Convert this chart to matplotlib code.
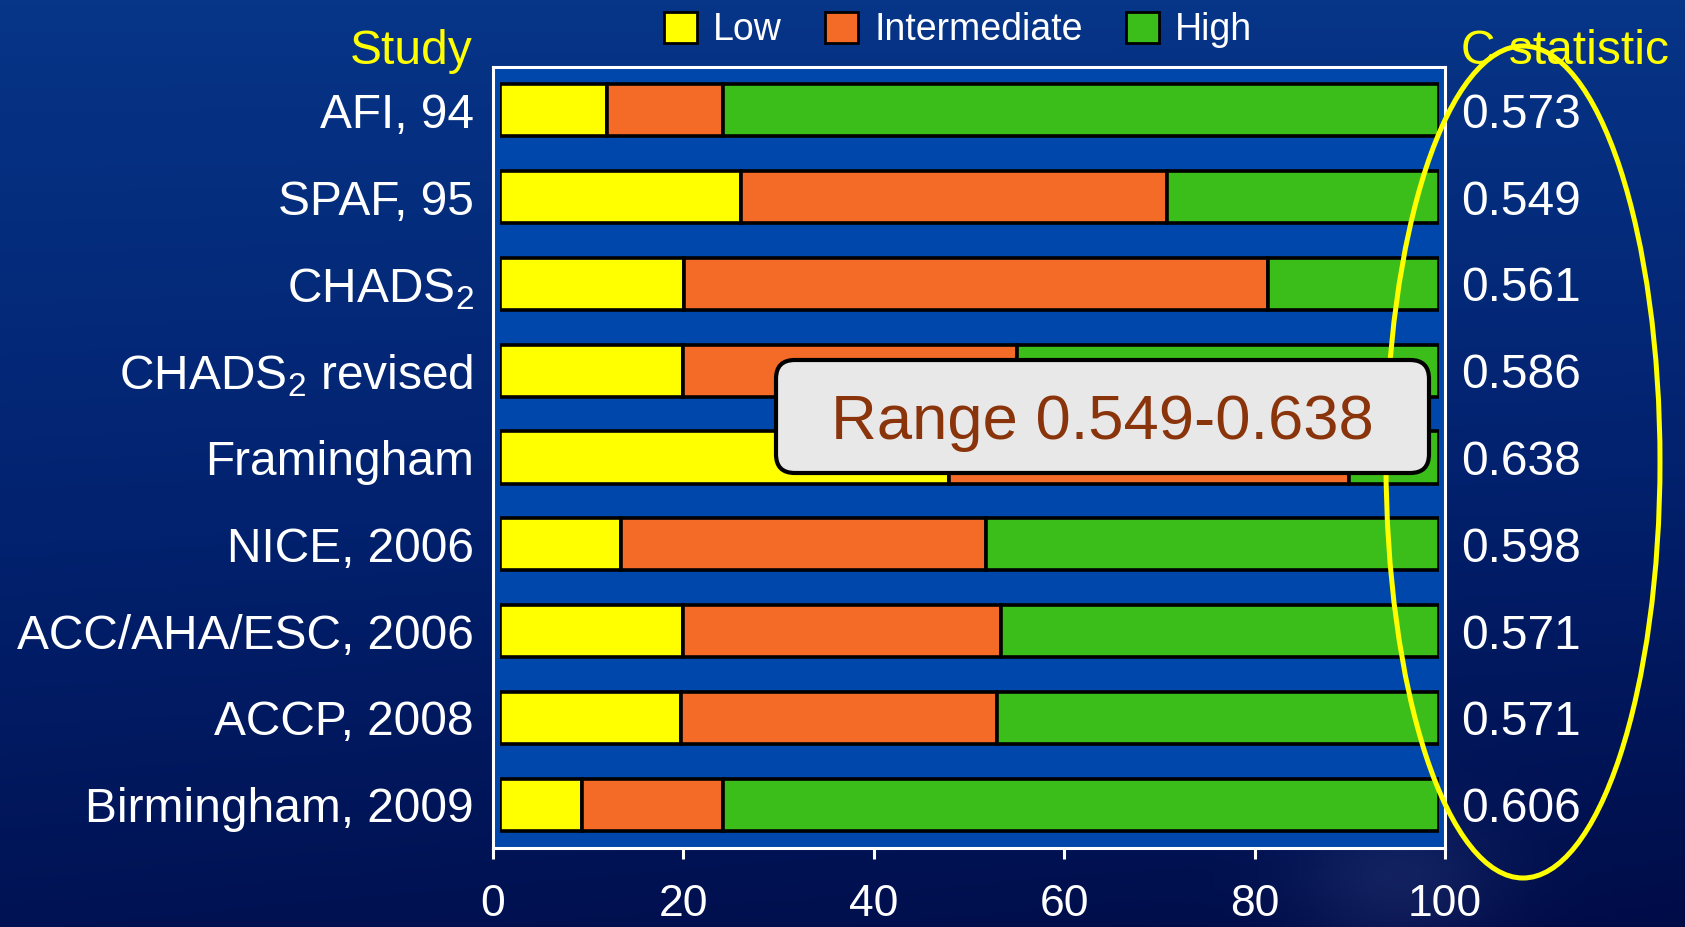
import numpy as np
import matplotlib
matplotlib.use("Agg")
import matplotlib.pyplot as plt
import matplotlib.patches as mpatches
from matplotlib.colors import LinearSegmentedColormap
from matplotlib.transforms import blended_transform_factory

plt.rcParams['font.family'] = ['Liberation Sans', 'DejaVu Sans']
plt.rcParams['mathtext.fontset'] = 'custom'
plt.rcParams['mathtext.rm'] = 'Liberation Sans'
plt.rcParams['mathtext.it'] = 'Liberation Sans'
plt.rcParams['mathtext.default'] = 'regular'

# Risk-scheme comparison: share of patients per risk category (%)
studies = ["AFI, 94", "SPAF, 95", "CHADS$_2$", "CHADS$_2$ revised", "Framingham",
           "NICE, 2006", "ACC/AHA/ESC, 2006", "ACCP, 2008", "Birmingham, 2009"]
low = [11.4, 25.7, 19.6, 19.5, 47.8, 12.9, 19.5, 19.3, 8.7]
intermediate = [12.4, 45.3, 62.2, 35.6, 42.6, 38.9, 33.9, 33.6, 15.0]
high = [76.2, 29.0, 18.2, 44.9, 9.6, 48.2, 46.6, 47.1, 76.3]
c_statistic = ["0.573", "0.549", "0.561", "0.586", "0.638",
               "0.598", "0.571", "0.571", "0.606"]
categories = ["Low", "Intermediate", "High"]
colors = ["#FFFF00", "#F46B28", "#3CBE1A"]
x_ticks = [0, 20, 40, 60, 80, 100]
range_label = "Range 0.549-0.638"

W, H = 1685, 927
fig = plt.figure(figsize=(W / 100, H / 100), dpi=100)

# dark blue slide background
bg = fig.add_axes([0, 0, 1, 1], zorder=-10)
bg.axis("off")
yy, xx = np.mgrid[0:1:300j, 0:1:500j]
grad = 0.85 * yy + 0.15 * xx * yy
glow = np.exp(-(((xx - 0.83) / 0.06) ** 2 + ((yy - 0.95) / 0.08) ** 2))
cmap = LinearSegmentedColormap.from_list("slide", ["#073588", "#02216E", "#000C48"])
img = cmap(np.clip(grad, 0, 1))
img[..., :3] = img[..., :3] + 0.07 * glow[..., None]
bg.imshow(np.clip(img, 0, 1), aspect="auto", extent=[0, 1, 0, 1], origin="upper")
bg.set_xlim(0, 1)
bg.set_ylim(0, 1)

# frame axes: blue panel, white border, x ticks and study labels
fl, fr, ft, fb = 493, 1445, 67, 848
ax = fig.add_axes([fl / W, 1 - fb / H, (fr - fl) / W, (fb - ft) / H])
ax.set_facecolor("#0047AB")
for s in ax.spines.values():
    s.set_color("white")
    s.set_linewidth(2.2)
ax.set_xlim(0, 100)
ax.set_ylim(len(studies) - 0.5, -0.5)
ax.set_xticks(x_ticks)
ax.set_xticklabels([str(t) for t in x_ticks])
ax.set_yticks(range(len(studies)))
ax.set_yticklabels(studies)
ax.tick_params(axis="x", direction="out", length=8, width=2.2, color="white",
               labelcolor="white", labelsize=32, pad=18)
ax.tick_params(axis="y", length=0, labelcolor="white", labelsize=34.5, pad=14)

# bar axes, slightly inset inside the panel
bl, br = 500, 1439
axb = fig.add_axes([bl / W, 1 - fb / H, (br - bl) / W, (fb - ft) / H])
axb.set_xlim(0, 100)
axb.set_ylim(len(studies) - 0.5, -0.5)
axb.axis("off")
ypos = np.arange(len(studies))
left = np.zeros(len(studies))
for vals, col, name in zip([low, intermediate, high], colors, categories):
    axb.barh(ypos, vals, left=left, height=0.6, color=col, edgecolor="black",
             linewidth=2.6, label=name, zorder=2)
    left = left + np.array(vals)

# C statistic column
tr = blended_transform_factory(fig.transFigure, axb.transData)
for y, c in zip(ypos, c_statistic):
    axb.text(1461 / W, y, c, transform=tr, ha="left", va="center_baseline", color="white",
             fontsize=34.5, clip_on=False, zorder=3)

fig.text(473 / W, 1 - 47 / H, "Study", ha="right", va="center_baseline", color="#FFFF00",
         fontsize=34.5)
fig.text(1461 / W, 1 - 47 / H, "C statistic", ha="left", va="center_baseline",
         color="#FFFF00", fontsize=34.5)

# highlight ring around the C statistic column
ring = mpatches.Ellipse((1523 / W, 1 - 462 / H), 274 / W, 832 / H, transform=fig.transFigure,
                        fill=False, edgecolor="#FFFF00", linewidth=3.6, clip_on=False, zorder=4)
axb.add_patch(ring)

# range call-out
aw, ah = br - bl, fb - ft
bx0, bx1, by0, by1 = 776, 1429, 360, 473
box = mpatches.FancyBboxPatch(((bx0 - bl) / aw, (fb - by1) / ah), (bx1 - bx0) / aw, (by1 - by0) / ah,
                              boxstyle="round,pad=0,rounding_size=0.02",
                              mutation_aspect=aw / ah, transform=axb.transAxes,
                              facecolor="#E8E8E8", edgecolor="black", linewidth=3,
                              clip_on=False, zorder=5)
axb.add_patch(box)
axb.text(((bx0 + bx1) / 2 - bl) / aw, (fb - (by0 + by1) / 2) / ah, range_label,
         transform=axb.transAxes, ha="center", va="center_baseline", color="#8A340C",
         fontsize=45.6, zorder=6)

# legend
handles = [mpatches.Patch(facecolor=c, edgecolor="black", linewidth=2) for c in colors]
fig.legend(handles, categories, loc="center", bbox_to_anchor=(958 / W, 1 - 30 / H), ncol=3,
           frameon=False, fontsize=27, handlelength=0.88, handleheight=0.88,
           handletextpad=0.43, columnspacing=1.15, labelcolor="white", borderaxespad=0)

fig.savefig("out.png", dpi=100)
